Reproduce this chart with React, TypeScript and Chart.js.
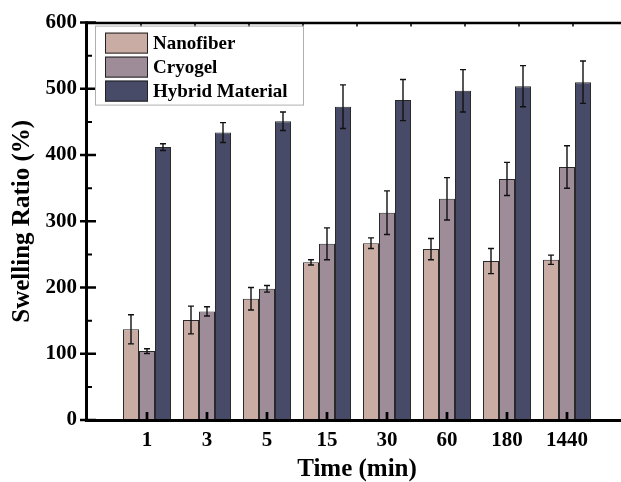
import React, { useEffect, useRef } from 'react';
import { Chart, registerables } from 'chart.js';
Chart.register(...registerables);

const categories = ['1', '3', '5', '15', '30', '60', '180', '1440'];
const seriesNames = ['Nanofiber', 'Cryogel', 'Hybrid Material'];
const nanofiber = [137, 151, 183, 238, 267, 258, 240, 242];
const nanofiberErr = [22, 21, 17, 4, 8, 16, 19, 7];
const cryogel = [104, 164, 198, 266, 313, 334, 364, 382];
const cryogelErr = [3.5, 7, 5, 24, 33, 32, 25, 32];
const hybrid = [412, 434, 451, 473, 483, 497, 504, 510];
const hybridErr = [5, 15, 14, 33, 31, 32, 31, 32];
const colors = ['#c9aca4', '#9e8c99', '#484b67'];
const yMin = 0;
const yMax = 600;
const yStep = 100;
const yMinorStep = 50;
const topTickDivisions = 10;

const FONT = "'Liberation Serif', 'Times New Roman', serif";

const pad = (arr: number[]) => [null, ...arr, null];

const errorBarPlugin = {
  id: 'errorBars',
  afterDatasetsDraw(chart: any) {
    const ctx = chart.ctx;
    const y = chart.scales.y;
    ctx.save();
    ctx.strokeStyle = '#111';
    ctx.lineWidth = 1.4;
    chart.data.datasets.forEach((ds: any, i: number) => {
      const meta = chart.getDatasetMeta(i);
      meta.data.forEach((bar: any, j: number) => {
        const v = ds.data[j];
        if (v == null) return;
        const e = ds.errors[j];
        const yt = y.getPixelForValue(v + e);
        const yb = y.getPixelForValue(v - e);
        const x = bar.x;
        const w = 3;
        ctx.beginPath();
        ctx.moveTo(x, yt);
        ctx.lineTo(x, yb);
        ctx.moveTo(x - w, yt);
        ctx.lineTo(x + w, yt);
        ctx.moveTo(x - w, yb);
        ctx.lineTo(x + w, yb);
        ctx.stroke();
      });
    });
    ctx.restore();
  },
};

const framePlugin = {
  id: 'frame',
  afterDraw(chart: any) {
    const ctx = chart.ctx;
    const { left, right, top, bottom } = chart.chartArea;
    const y = chart.scales.y;
    const x = chart.scales.x;
    ctx.save();
    ctx.strokeStyle = '#000';
    ctx.lineWidth = 2.5;
    ctx.beginPath();
    ctx.moveTo(left - 1, top + 0.5);
    ctx.lineTo(right + 2, top + 0.5);
    ctx.stroke();
    ctx.lineWidth = 1.5;
    ctx.beginPath();
    for (let k = 1; k < topTickDivisions; k++) {
      const px = left + (k * (right - left)) / topTickDivisions;
      ctx.moveTo(px, top);
      ctx.lineTo(px, top + 4);
    }
    ctx.stroke();
    ctx.lineWidth = 3;
    ctx.beginPath();
    ctx.moveTo(left - 0.5, top - 1);
    ctx.lineTo(left - 0.5, bottom + 2);
    ctx.stroke();
    ctx.beginPath();
    ctx.moveTo(left - 2, bottom + 0.5);
    ctx.lineTo(right + 2, bottom + 0.5);
    ctx.stroke();
    ctx.lineWidth = 2.5;
    ctx.beginPath();
    for (let v = yMin; v <= yMax; v += yStep) {
      const py = y.getPixelForValue(v);
      ctx.moveTo(left - 7, py);
      ctx.lineTo(left + 9, py);
    }
    ctx.stroke();
    ctx.lineWidth = 2;
    ctx.beginPath();
    for (let v = yMin + yMinorStep; v < yMax; v += yStep) {
      const py = y.getPixelForValue(v);
      ctx.moveTo(left - 1, py);
      ctx.lineTo(left + 5, py);
    }
    ctx.stroke();
    ctx.lineWidth = 2.7;
    ctx.beginPath();
    categories.forEach((_, i) => {
      const px = x.getPixelForValue(i + 1);
      ctx.moveTo(px, bottom);
      ctx.lineTo(px, bottom - 8);
    });
    ctx.stroke();

    const bx = left + 8, by = top + 3, bw = 208, bh = 79;
    ctx.strokeStyle = '#b0b0b0';
    ctx.lineWidth = 1;
    ctx.strokeRect(bx + 0.5, by + 0.5, bw, bh);
    ctx.font = `bold 19px ${FONT}`;
    ctx.textBaseline = 'middle';
    ctx.textAlign = 'left';
    chart.data.datasets.forEach((ds: any, i: number) => {
      const ry = by + 7 + i * 24;
      ctx.fillStyle = ds.backgroundColor;
      ctx.fillRect(bx + 10, ry, 43, 21);
      ctx.strokeStyle = '#222';
      ctx.lineWidth = 1;
      ctx.strokeRect(bx + 10.5, ry + 0.5, 42, 20);
      ctx.fillStyle = '#000';
      ctx.fillText(ds.label, bx + 58, ry + 11);
    });
    ctx.restore();
  },
};

export default function App() {
  const ref = useRef<HTMLCanvasElement>(null);
  useEffect(() => {
    if (!ref.current) return;
    const errs = [nanofiberErr, cryogelErr, hybridErr];
    const vals = [nanofiber, cryogel, hybrid];
    const chart = new Chart(ref.current, {
      type: 'bar',
      data: {
        labels: ['', ...categories, ''],
        datasets: seriesNames.map((name, i) => ({
          label: name,
          data: pad(vals[i]),
          errors: pad(errs[i]),
          backgroundColor: colors[i],
          borderColor: '#2a2a2a',
          borderWidth: 1,
          categoryPercentage: 0.8,
          barPercentage: 1,
        })) as any,
      },
      options: {
        animation: false,
        responsive: false,
        maintainAspectRatio: false,
        layout: { padding: { top: 20, right: 13, left: 0, bottom: 0 } },
        plugins: { legend: { display: false }, tooltip: { enabled: false } },
        scales: {
          x: {
            offset: false,
            grid: { display: false, drawTicks: false },
            border: { display: false },
            ticks: {
              color: '#000',
              font: { family: FONT, size: 21, weight: 'bold' },
              padding: 8,
              maxRotation: 0,
              autoSkip: false,
            },
            title: {
              display: true,
              text: 'Time (min)',
              color: '#000',
              font: { family: FONT, size: 25, weight: 'bold', lineHeight: 1 },
              padding: { top: 0, bottom: 0 },
            },
            afterFit: (s: any) => { s.height = 62; },
          },
          y: {
            min: yMin,
            max: yMax,
            grid: { display: false, drawTicks: false },
            border: { display: false },
            ticks: {
              stepSize: yStep,
              color: '#000',
              font: { family: FONT, size: 21, weight: 'bold' },
              padding: 10,
            },
            title: {
              display: true,
              text: 'Swelling Ratio (%)',
              color: '#000',
              font: { family: FONT, size: 25, weight: 'bold', lineHeight: 1 },
              padding: { top: 10, bottom: 0 },
            },
            afterFit: (s: any) => { s.width = 87; },
          },
        },
      },
      plugins: [errorBarPlugin, framePlugin],
    });
    return () => chart.destroy();
  }, []);
  return (
    <div style={{ position: 'absolute', left: 0, top: 0, width: 621, height: 482, overflow: 'hidden', background: '#fff' }}>
      <canvas ref={ref} width={640} height={482} style={{ display: 'block', width: 640, height: 482 }} />
    </div>
  );
}
